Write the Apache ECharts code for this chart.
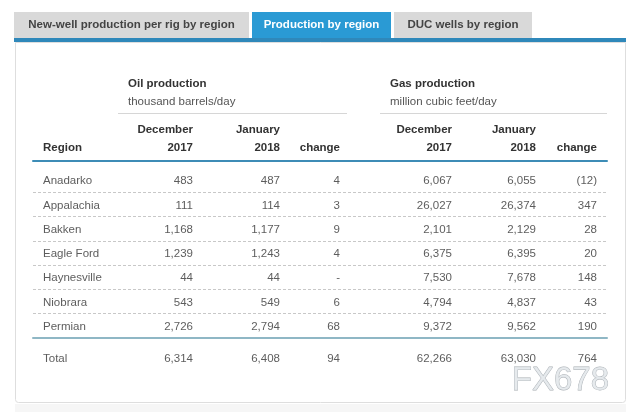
<!DOCTYPE html>
<html>
<head>
<meta charset="utf-8">
<script src="https://cdn.jsdelivr.net/npm/echarts@6/dist/echarts.min.js"></script>
<style>
html,body{margin:0;padding:0;background:#fff;}
#chart{width:640px;height:412px;}
</style>
</head>
<body>
<div id="chart"></div>
<script>
// ---- data ----
const tabs = ['New-well production per rig by region', 'Production by region', 'DUC wells by region'];
const activeTab = 1;
const groupTitles = ['Oil production', 'Gas production'];
const groupUnits = ['thousand barrels/day', 'million cubic feet/day'];
const regionHeader = 'Region';
const colHeadTop = ['December', 'January', ''];
const colHeadBottom = ['2017', '2018', 'change'];
const regions = ['Anadarko', 'Appalachia', 'Bakken', 'Eagle Ford', 'Haynesville', 'Niobrara', 'Permian'];
const oilDec2017 = [483, 111, 1168, 1239, 44, 543, 2726];
const oilJan2018 = [487, 114, 1177, 1243, 44, 549, 2794];
const oilChange  = [4, 3, 9, 4, 0, 6, 68];
const gasDec2017 = [6067, 26027, 2101, 6375, 7530, 4794, 9372];
const gasJan2018 = [6055, 26374, 2129, 6395, 7678, 4837, 9562];
const gasChange  = [-12, 347, 28, 20, 148, 43, 190];
const totalLabel = 'Total';
const oilTotals = [6314, 6408, 94];
const gasTotals = [62266, 63030, 764];
const watermark = 'FX678';

// ---- layout / style ----
const FONT = '"Liberation Sans", Arial, Helvetica, sans-serif';
const FS = 11.5;
const TXT = '#333';
const colX = [43, 193, 280, 340, 452, 536, 597]; // anchor per column (region left, others right)
const tableL = 33, tableR = 607;

function fmt(v) {
  if (v === 0) return '-';
  if (v < 0) return '(' + Math.abs(v).toLocaleString('en-US') + ')';
  return v.toLocaleString('en-US');
}

const chart = echarts.init(document.getElementById('chart'), null, {renderer: 'canvas'});

const valueCols = [oilDec2017, oilJan2018, oilChange, gasDec2017, gasJan2018, gasChange];
const totalCols = oilTotals.concat(gasTotals);

const series = [];
const labelBase = {show: true, fontSize: FS, color: TXT, fontFamily: FONT, formatter: '{b}', distance: 0, offset: [0, 1]};
// region name column
series.push({
  type: 'scatter', xAxisIndex: 0, yAxisIndex: 0, symbolSize: 0, silent: true,
  label: Object.assign({}, labelBase, {position: 'right'}),
  data: regions.map((r, i) => ({name: r, value: [colX[0], i]}))
});
valueCols.forEach((arr, c) => {
  series.push({
    type: 'scatter', xAxisIndex: 0, yAxisIndex: 0, symbolSize: 0, silent: true,
    label: Object.assign({}, labelBase, {position: 'left'}),
    data: arr.map((v, i) => ({name: fmt(v), value: [colX[c + 1], i]}))
  });
});
// total row
series.push({
  type: 'scatter', xAxisIndex: 2, yAxisIndex: 1, symbolSize: 0, silent: true,
  label: Object.assign({}, labelBase, {position: 'right'}),
  data: [{name: totalLabel, value: [colX[0], 0]}]
});
series.push({
  type: 'scatter', xAxisIndex: 2, yAxisIndex: 1, symbolSize: 0, silent: true,
  label: Object.assign({}, labelBase, {position: 'left'}),
  data: totalCols.map((v, c) => ({name: fmt(v), value: [colX[c + 1], 0]}))
});

// ---- decoration graphics ----
const graphic = [];
// strip below panel
graphic.push({type: 'rect', shape: {x: 15, y: 404, width: 611, height: 8}, style: {fill: '#f6f6f6'}, z: 0});
// panel
graphic.push({type: 'rect', shape: {x: 15.5, y: 42.5, width: 610, height: 360, r: [0, 0, 3, 3]}, style: {fill: '#fff', stroke: '#dedede', lineWidth: 1}, z: 0});
// tabs
const tabBoxes = [[14, 235], [252, 139], [394, 138]];
tabs.forEach((t, i) => {
  const [x, w] = tabBoxes[i];
  const active = i === activeTab;
  graphic.push({type: 'rect', shape: {x: x, y: 12, width: w, height: 26}, style: {fill: active ? '#2a9ad4' : '#d9d9d9'}, z: 1});
  graphic.push({type: 'text', x: x + w / 2, y: 25, style: {text: t, fill: active ? '#fff' : '#444', font: 'bold ' + FS + 'px ' + FONT, textAlign: 'center', textVerticalAlign: 'middle'}, z: 2});
});
graphic.push({type: 'rect', shape: {x: 14, y: 38, width: 612, height: 4}, style: {fill: '#2f88ba'}, z: 2});

// group headers
const groupX = [128, 390];
const groupLine = [[118, 347], [380, 607]];
groupTitles.forEach((t, g) => {
  graphic.push({type: 'text', x: groupX[g], y: 83.5, style: {text: t, fill: TXT, font: 'bold ' + FS + 'px ' + FONT, textVerticalAlign: 'middle'}, z: 3});
  graphic.push({type: 'text', x: groupX[g], y: 101.5, style: {text: groupUnits[g], fill: '#555', font: FS + 'px ' + FONT, textVerticalAlign: 'middle'}, z: 3});
  graphic.push({type: 'line', shape: {x1: groupLine[g][0], y1: 113.5, x2: groupLine[g][1], y2: 113.5}, style: {stroke: '#d6d6d6', lineWidth: 1}, z: 3});
});
// column headers
graphic.push({type: 'text', x: colX[0], y: 147.5, style: {text: regionHeader, fill: TXT, font: 'bold ' + FS + 'px ' + FONT, textVerticalAlign: 'middle'}, z: 3});
for (let c = 0; c < 6; c++) {
  const k = c % 3;
  if (colHeadTop[k]) graphic.push({type: 'text', x: colX[c + 1], y: 129.5, style: {text: colHeadTop[k], fill: TXT, font: 'bold ' + FS + 'px ' + FONT, textAlign: 'right', textVerticalAlign: 'middle'}, z: 3});
  graphic.push({type: 'text', x: colX[c + 1], y: 147.5, style: {text: colHeadBottom[k], fill: TXT, font: 'bold ' + FS + 'px ' + FONT, textAlign: 'right', textVerticalAlign: 'middle'}, z: 3});
}
// watermark
graphic.push({type: 'text', x: 609, y: 381, style: {text: watermark, fill: 'rgba(226,230,234,0.85)', stroke: 'rgba(160,166,172,0.9)', lineWidth: 0.8, font: '33px ' + FONT, textAlign: 'right', textVerticalAlign: 'middle'}, z: 10});

const hiddenX = {type: 'value', min: tableL, max: tableR, axisLabel: {show: false}, axisTick: {show: false}, splitLine: {show: false}};

chart.setOption({
  animation: false,
  backgroundColor: '#fff',
  graphic: graphic,
  grid: [
    {left: tableL, right: 640 - tableR, top: 168, height: 170},
    {left: tableL, right: 640 - tableR, top: 346, height: 24}
  ],
  xAxis: [
    Object.assign({}, hiddenX, {gridIndex: 0, position: 'bottom', axisLine: {show: true, onZero: false, lineStyle: {color: '#8fb7c5', width: 2}}}),
    Object.assign({}, hiddenX, {gridIndex: 0, position: 'top', offset: 7, axisLine: {show: true, onZero: false, lineStyle: {color: '#3d8cb6', width: 2}}}),
    Object.assign({}, hiddenX, {gridIndex: 1, axisLine: {show: false}})
  ],
  yAxis: [
    {type: 'category', gridIndex: 0, inverse: true, data: regions,
     axisLine: {show: false}, axisTick: {show: false}, axisLabel: {show: false, interval: 0},
     splitLine: {show: true, interval: 0, showMinLine: false, showMaxLine: false, lineStyle: {color: '#c8c8c8', type: [3, 2], width: 1}}},
    {type: 'category', gridIndex: 1, data: [totalLabel],
     axisLine: {show: false}, axisTick: {show: false}, axisLabel: {show: false}, splitLine: {show: false}}
  ],
  series: series
});
</script>
</body>
</html>
